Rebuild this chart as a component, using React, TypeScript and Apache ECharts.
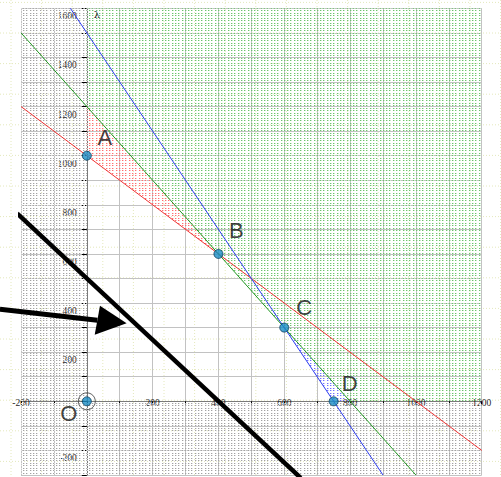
import React, { useEffect, useRef } from "react";
import * as echarts from "echarts";

// ---- data ----
const xMin = -200;
const xMax = 1200;
const yMin = -300;
const yMax = 1600;
const xTickLabels = [-200, 200, 400, 600, 800, 1000, 1200];
const yTickLabels = [1600, 1400, 1200, 1000, 800, 600, 400, 200, -200];

const redLine = [[-200, 1200], [1200, -200]]; // x + y = 1000
const greenLine = [[-200, 1500], [1000, -300]]; // 3x + 2y = 2400
const blueLine = [[-50, 1600], [900, -300]]; // 2x + y = 1500
const objectiveLine = [[-212, 765], [650, -312]]; // 5x + 4y = 2000

const pointNames = ["A", "B", "C", "D", "O"];
const pointX = [0, 400, 600, 750, 0];
const pointY = [1000, 600, 300, 0, 0];

const grayRegionLeft = [[-200, -300], [0, -300], [0, 1600], [-200, 1600]];
const grayRegionBottom = [[0, -300], [1200, -300], [1200, 0], [0, 0]];
const greenRegion = [[0, 1200], [0, 1600], [1200, 1600], [1200, 0], [800, 0]];
const redRegion = [[0, 1000], [0, 1200], [400, 600]];
const blueRegion = [[600, 300], [800, 0], [750, 0]];

const arrowTail = [-264, 375];
const arrowBase = [32, 330];
const arrowTip = [121, 318];
const arrowHeadA = [40, 389];
const arrowHeadB = [24, 271];

const axisName = "λ";

// ---- layout / style ----
const gridLeft = 21;
const gridTop = 8.3;
const gridRight = 19.3;
const gridBottom = 2;
const labelOffsets = [
  [18, -18],
  [18, -23],
  [20, -20],
  [16, -18],
  [-18, 12],
];

function makeTile(dark: string, light: string) {
  const c = document.createElement("canvas");
  c.width = 33;
  c.height = 25;
  const ctx = c.getContext("2d")!;
  for (let i = 0; i < 10; i++) {
    for (let j = 0; j < 10; j++) {
      const x = Math.round(i * 3.3);
      const y = Math.round(j * 2.5);
      ctx.fillStyle = light;
      ctx.fillRect(x + 1, y, 1, 1);
      ctx.fillStyle = dark;
      ctx.fillRect(x, y, 1, 1);
    }
  }
  return { image: c, repeat: "repeat", imageWidth: 33, imageHeight: 25 } as any;
}

function regionSeries(points: number[][], fill: any, z: number) {
  return {
    type: "custom",
    silent: true,
    z,
    data: [[0]],
    renderItem: (_p: any, api: any) => ({
      type: "polygon",
      shape: { points: points.map((p) => api.coord(p)) },
      style: { fill, stroke: "none" },
    }),
  };
}

function lineSeries(data: number[][], color: string, width: number, z: number) {
  return {
    type: "line",
    data,
    showSymbol: false,
    symbol: "none",
    clip: false,
    silent: true,
    z,
    lineStyle: { color, width },
  };
}

export default function App() {
  const ref = useRef<HTMLDivElement>(null);
  useEffect(() => {
    if (!ref.current) return;
    const chart = echarts.init(ref.current, undefined, { renderer: "svg" });
    const grayFill = makeTile("#a2a2a2", "#e2e2e2");
    const greenFill = makeTile("#6cc46c", "#c8eac8");
    const redFill = makeTile("#ff7070", "#ffcaca");
    const blueFill = makeTile("#7070ff", "#cacaff");

    const labelFont = {
      fontFamily: "Liberation Serif",
      fontSize: 9.5,
      color: "#1e1e1e",
    };

    const plotW = 501 - gridLeft - gridRight;
    const plotH = 477 - gridTop - gridBottom;
    // distance of the zero lines from the bottom / left edges of the plot
    const xAxisOffset = -((0 - yMin) / (yMax - yMin)) * plotH;
    const yAxisOffset = -((0 - xMin) / (xMax - xMin)) * plotW;

    chart.setOption({
      animation: false,
      backgroundColor: "transparent",
      grid: {
        left: gridLeft,
        top: gridTop,
        right: gridRight,
        bottom: gridBottom,
        containLabel: false,
        outerBoundsMode: "none",
      },
      xAxis: {
        type: "value",
        position: "bottom",
        offset: xAxisOffset,
        min: xMin,
        max: xMax,
        interval: 100,
        axisLine: { onZero: false, lineStyle: { color: "#7a7a7a", width: 1 } },
        axisTick: { show: true, length: 3, lineStyle: { color: "#000" } },
        axisLabel: {
          ...labelFont,
          margin: 2,
          verticalAlign: "middle",
          showMinLabel: true,
          showMaxLabel: true,
          hideOverlap: false,
          formatter: (v: number) => (xTickLabels.includes(v) ? String(v) : ""),
        },
        splitLine: { show: true, lineStyle: { color: "#c2c2c2", width: 1 } },
      },
      yAxis: {
        type: "value",
        position: "left",
        offset: yAxisOffset,
        min: yMin,
        max: yMax,
        interval: 100,
        axisLine: { onZero: false, lineStyle: { color: "#7a7a7a", width: 1 } },
        axisTick: { show: true, length: 5, lineStyle: { color: "#000" } },
        axisLabel: {
          ...labelFont,
          margin: 10,
          verticalAlign: "top",
          padding: [3, 0, 0, 0],
          showMinLabel: true,
          showMaxLabel: true,
          hideOverlap: false,
          formatter: (v: number) => (yTickLabels.includes(v) ? String(v) : ""),
        },
        splitLine: { show: true, lineStyle: { color: "#c2c2c2", width: 1 } },
      },
      series: [
        regionSeries(grayRegionLeft, grayFill, 1),
        regionSeries(grayRegionBottom, grayFill, 1),
        regionSeries(greenRegion, greenFill, 1),
        regionSeries(redRegion, redFill, 1),
        regionSeries(blueRegion, blueFill, 1),
        lineSeries(redLine, "#f03232", 1, 3),
        lineSeries(greenLine, "#229922", 1, 3),
        lineSeries(blueLine, "#2c3cf0", 1, 3),
        lineSeries(objectiveLine, "#000000", 4.5, 4),
        {
          type: "scatter",
          silent: true,
          z: 5,
          symbol: "circle",
          symbolSize: 17,
          itemStyle: { color: "rgba(0,0,0,0)", borderColor: "#3a3a3a", borderWidth: 1 },
          data: [[pointX[4], pointY[4]]],
        },
        {
          type: "scatter",
          silent: true,
          z: 6,
          symbol: "circle",
          symbolSize: 9,
          itemStyle: { color: "#1b8dc6", borderColor: "#0c3f5e", borderWidth: 1 },
          label: {
            show: true,
            position: "inside",
            formatter: "{b}",
            fontFamily: "Liberation Sans",
            fontSize: 22,
            color: "#111",
          },
          data: pointNames.map((n, i) => ({
            name: n,
            value: [pointX[i], pointY[i]],
            label: { offset: labelOffsets[i] },
          })),
        },
      ],
    });

    const px = (p: number[]) => chart.convertToPixel({ gridIndex: 0 }, p) as number[];
    const graphics: any[] = [];
    // faint page grid of the drawing program
    const step = 30.6;
    for (let x = 164 - 5 * step; x < 501; x += step) {
      graphics.push({
        type: "line",
        z: -10,
        silent: true,
        shape: { x1: x, y1: 0, x2: x, y2: 477 },
        style: { stroke: "#e4e8bc", lineWidth: 1, lineDash: [1, 2] },
      });
    }
    for (let y = 308.4 - 10 * step; y < 477; y += step) {
      graphics.push({
        type: "line",
        z: -10,
        silent: true,
        shape: { x1: 0, y1: y, x2: 501, y2: y },
        style: { stroke: "#e4e8bc", lineWidth: 1, lineDash: [1, 2] },
      });
    }
    const t = px(arrowTail);
    const b = px(arrowBase);
    graphics.push({
      type: "line",
      z: 100,
      silent: true,
      shape: { x1: t[0], y1: t[1], x2: b[0], y2: b[1] },
      style: { stroke: "#000", lineWidth: 5 },
    });
    graphics.push({
      type: "polygon",
      z: 100,
      silent: true,
      shape: { points: [px(arrowHeadA), px(arrowTip), px(arrowHeadB)] },
      style: { fill: "#000" },
    });
    const top = px([0, yMax]);
    graphics.push({
      type: "text",
      z: 100,
      silent: true,
      x: top[0] + 7,
      y: top[1] + 1,
      style: {
        text: axisName,
        fontFamily: "DejaVu Serif",
        fontSize: 10,
        fill: "#222",
        verticalAlign: "top",
      },
    });
    chart.setOption({ graphic: graphics });

    return () => chart.dispose();
  }, []);
  return (
    <div
      ref={ref}
      style={{ position: "absolute", left: 0, top: 0, width: 501, height: 477, background: "#fff" }}
    />
  );
}
